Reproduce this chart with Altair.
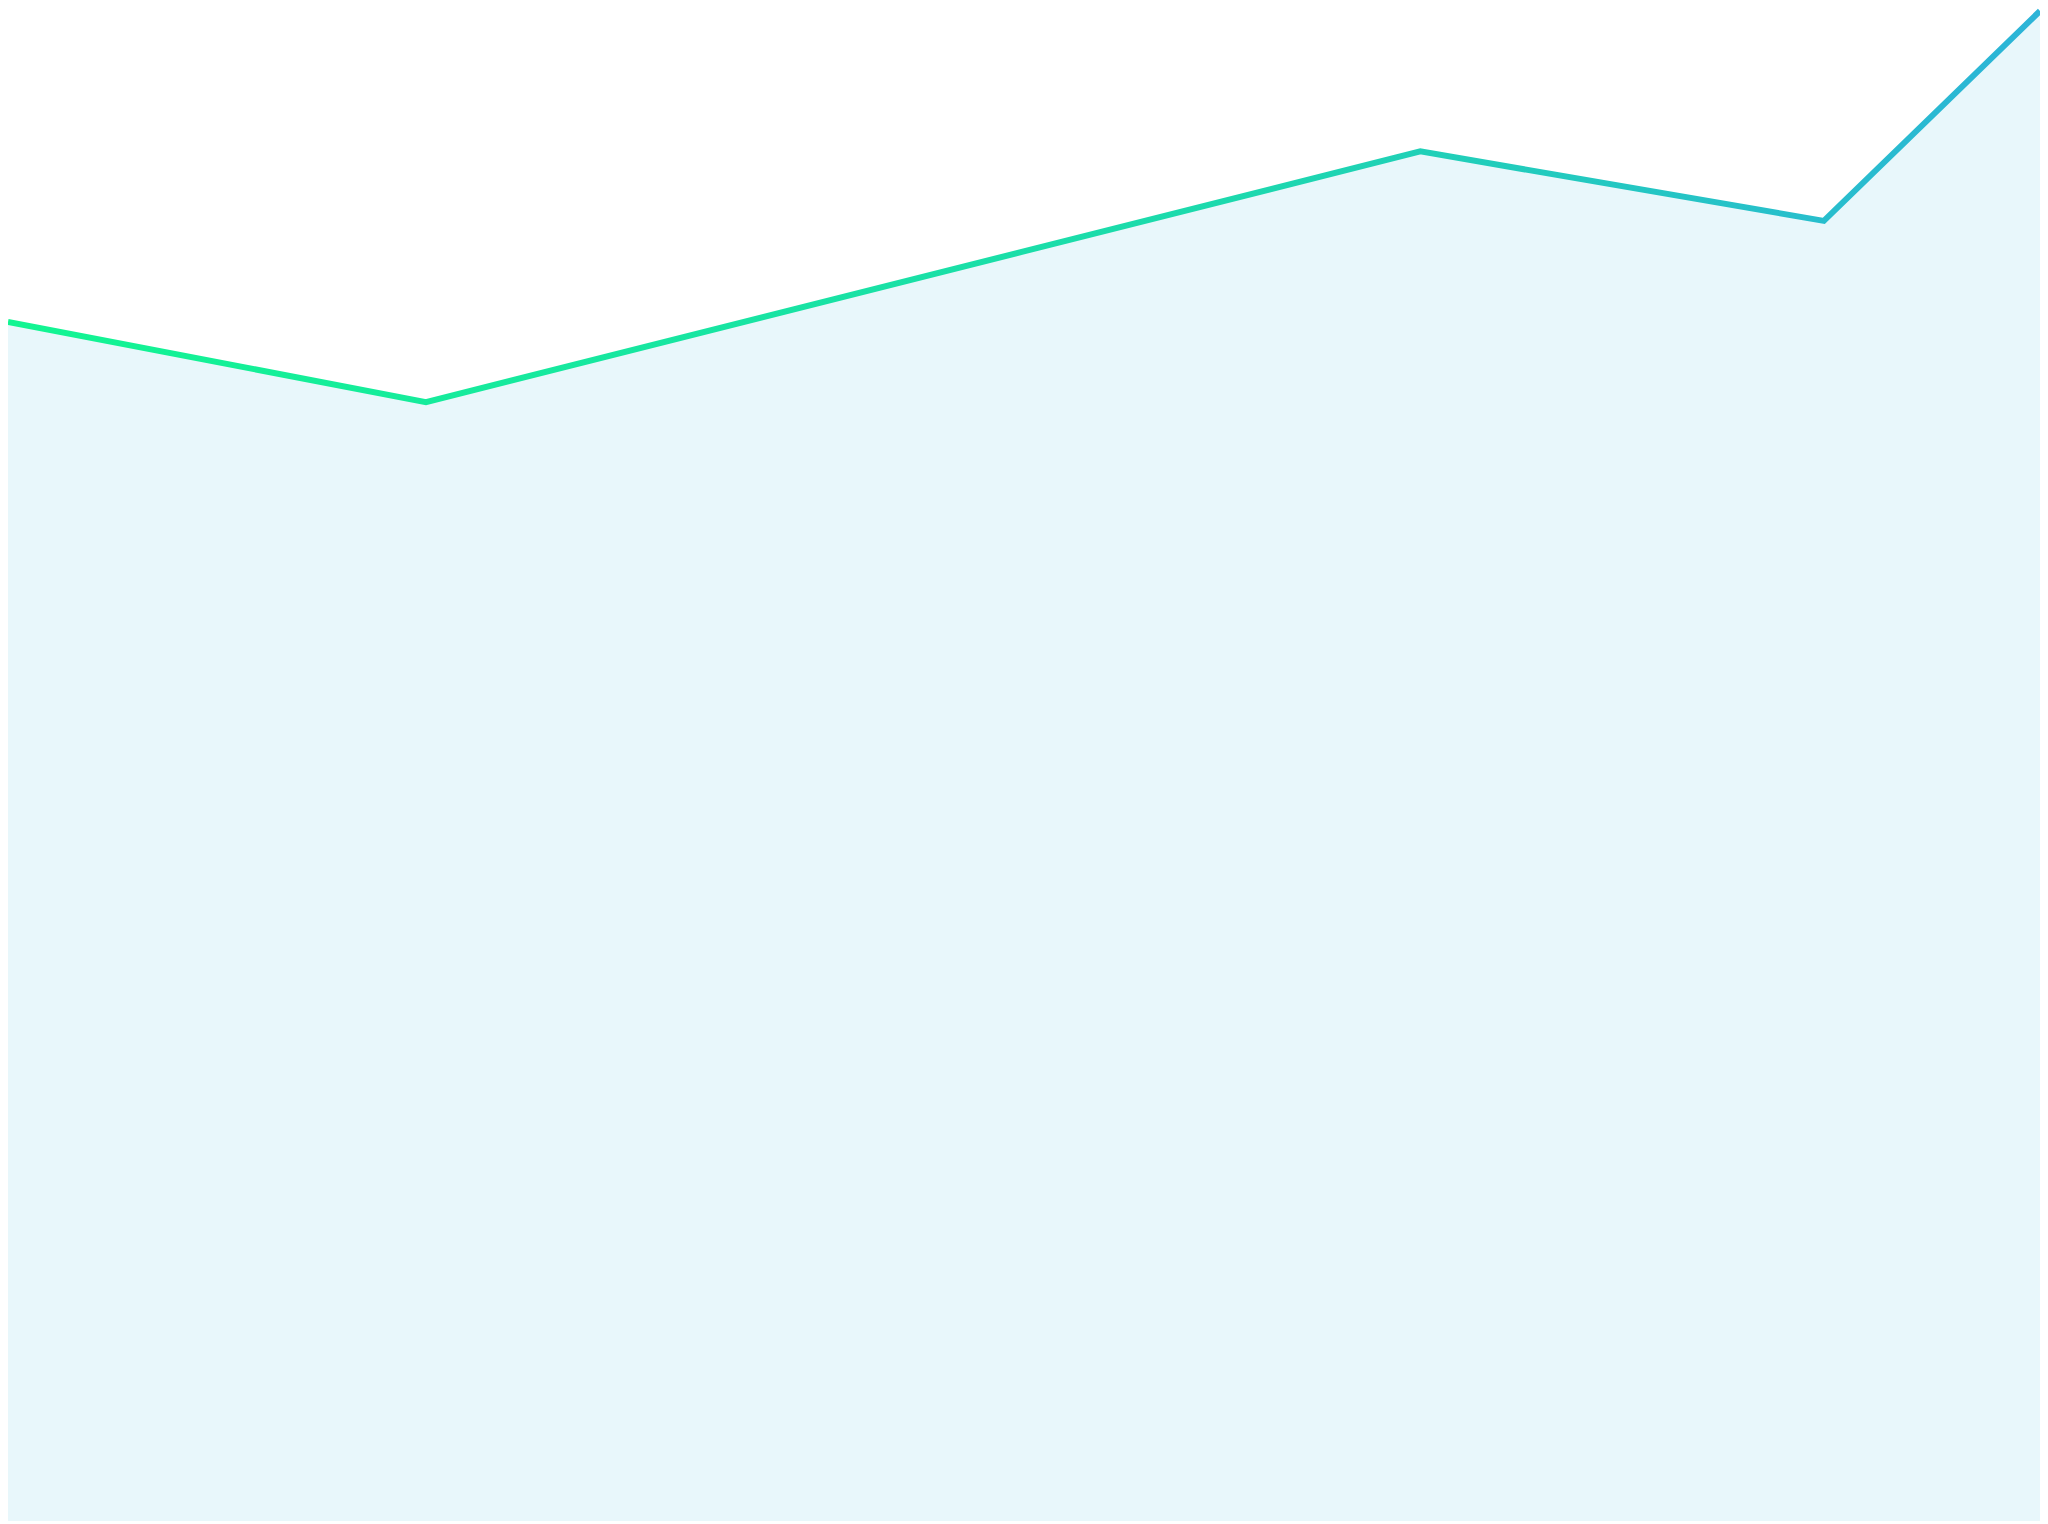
import altair as alt
import pandas as pd

# data (x: day offsets, y: values on a 0-100 scale)
days = [0, 29, 98, 126, 141]
values = [79.4, 74.1, 90.7, 86.1, 100.0]

df = pd.DataFrame({"day": days, "value": values})

x_enc = alt.X("day:Q", axis=None, scale=alt.Scale(domain=[0, 141], nice=False, zero=False))
y_enc = alt.Y("value:Q", axis=None, scale=alt.Scale(domain=[0, 100], nice=False))

area = alt.Chart(df).mark_area(fill="#e8f7fb", opacity=1, clip=True).encode(x=x_enc, y=y_enc)

line = alt.Chart(df).mark_line(
    strokeWidth=6,
    clip=False,
    stroke=alt.Gradient(
        gradient="linear",
        stops=[
            alt.GradientStop(color="#12f592", offset=0),
            alt.GradientStop(color="#1cd9ad", offset=0.6),
            alt.GradientStop(color="#2cb4d8", offset=1),
        ],
        x1=0, x2=1, y1=0, y2=0,
    ),
).encode(x=x_enc, y=y_enc)

chart = (
    alt.layer(area, line)
    .properties(width=2040, height=1516, padding=0, autosize=alt.AutoSizeParams(type="none"), background="white")
    .configure_view(stroke=None)
)

chart.save("out.html", embed_options={"renderer": "svg", "actions": False})
